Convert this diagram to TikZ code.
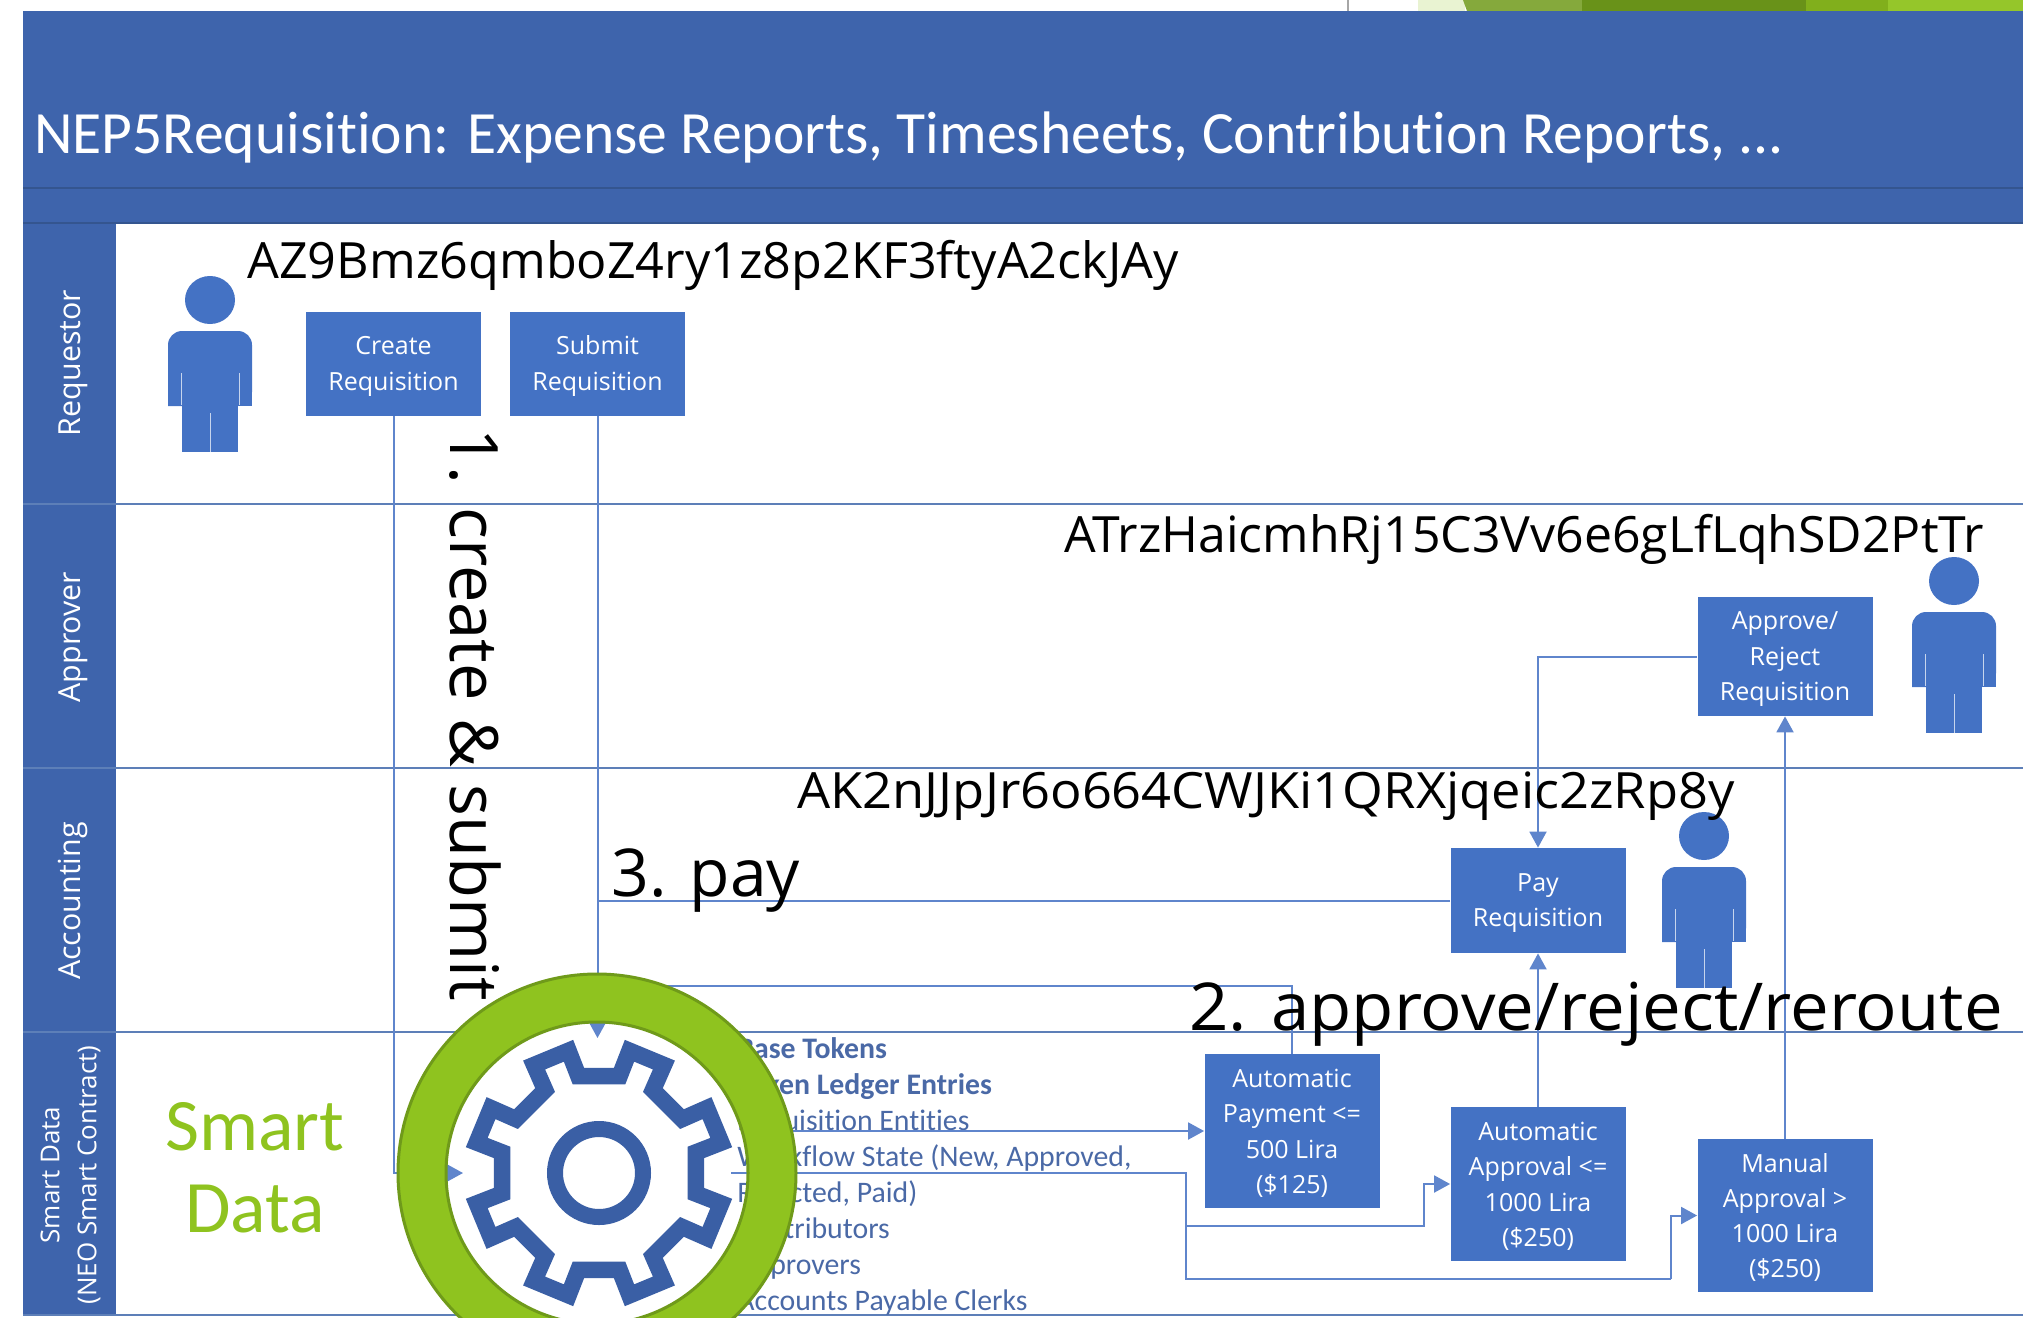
\documentclass[tikz,border=0pt]{standalone}
\usepackage{fontspec}
\setmainfont{Open Sans}
\newfontfamily\calfont[Ligatures=NoCommon]{Carlito}
\usetikzlibrary{arrows.meta}
\usetikzlibrary{positioning}
\definecolor{bandblue}{HTML}{3E64AC}
\definecolor{banddark}{HTML}{34558F}
\definecolor{boxblue}{HTML}{4472C4}
\definecolor{flowblue}{HTML}{5F85CC}
\definecolor{laneline}{HTML}{5D7FB8}
\definecolor{geardark}{HTML}{3A5FA5}
\definecolor{ringgreen}{HTML}{8FC31F}
\definecolor{ringdark}{HTML}{6F9A1A}
\definecolor{listblue}{HTML}{4A69A6}
\newcommand{\boxgap}{\rule{0pt}{11.5pt}}
\tikzset{
  flowbox/.style={rectangle,fill=boxblue,text=white,align=center,inner sep=0pt,minimum width=87.5pt,
    font=\fontsize{12.5}{17.6}\selectfont},
  lanetext/.style={text=white,rotate=90,align=center,inner sep=0pt},
  biglabel/.style={anchor=base west,inner sep=0pt,text=black},
  flowline/.style={draw=flowblue,line width=1pt},
  flowarrow/.style={flowline,-{Triangle[length=8pt,width=8.5pt]}},
}
\begin{document}
\begin{tikzpicture}[line cap=butt,line join=miter,x=0.5pt,y=-0.5pt]
\useasboundingbox (0,0) rectangle (2023,1317);
\clip (0,0) rectangle (2023,1317);
% slide behind the swimlanes
\fill[color=black!35] (1347,0) rectangle (1349,11);
\fill[color=ringgreen!20] (1418,0) rectangle (1465,11);
\fill[color=ringdark!85!white] (1463,0) -- (1582,0) -- (1582,11) -- (1467,11) -- cycle;
\fill[color=ringdark!95!black] (1582,0) rectangle (1806,11);
\fill[color=ringgreen!90!black] (1806,0) rectangle (1888,11);
\fill[color=ringgreen!95!white] (1888,0) rectangle (2023,11);
% header and lanes
\fill[color=bandblue] (23,11) rectangle (2023,224);
\draw[color=banddark,line width=1pt] (23,188) -- (2023,188);
\draw[color=banddark,line width=1pt] (23,223) -- (2023,223);
\fill[color=bandblue] (23,224) rectangle (116,1316);
\foreach \y in {504,768,1032,1315}
\draw[color=laneline,line width=1.3pt] (23,\y) -- (2023,\y);
\node[anchor=base west,inner sep=0pt,text=white,transform shape,xscale=0.993,font=\calfont\fontsize{30}{36}\selectfont] (title) at (34,153) {NEP5Requisition: Expense Reports, Timesheets, Contribution Reports, ...};
\node[lanetext,font=\fontsize{15.2}{18}\selectfont] (requestor) at (73,363) {Requestor};
\node[lanetext,font=\fontsize{15.2}{18}\selectfont] (approver) at (73,637) {Approver};
\node[lanetext,font=\fontsize{15.2}{18}\selectfont] (accounting) at (73,901) {Accounting};
\node[lanetext,font=\fontsize{13}{18.6}\selectfont] (smartlane) at (70.5,1175) {Smart Data\\(NEO Smart Contract)};
% people
\foreach \px/\py in {210/300,1954/581,1704/836}{
\begin{scope}[shift={(\px,\py)}]
\fill[color=boxblue] (0,0) ellipse (25 and 24);
\fill[color=boxblue,rounded corners=7pt] (-42,106) -- (-42,31) -- (42,31) -- (42,106) [sharp corners] -- cycle;
\fill[color=boxblue] (-42,80) rectangle (42,106);
\fill[color=boxblue] (-28,100) rectangle (28,152);
\draw[color=white!70!boxblue,line width=0.5pt] (-29,73) -- (-29,105) (29,73) -- (29,105) (0,113) -- (0,152);
\end{scope}}
% white disc of the gear
\node[circle,fill=white,minimum size=150pt,inner sep=0pt] (hub) at (597.5,1173) {};
\coordinate (gearn) at (597.5,1038);
\coordinate (gearw) at (463,1173);
\coordinate (geare) at (731,1173);
\coordinate (gearp) at (760,1131);
\coordinate (gearr) at (597.5,986);
\coordinate (payjoin) at (597.5,900.5);
\coordinate (turnb) at (1186,1279);
\coordinate (turnc) at (1671,1279);
\coordinate (branch) at (1186,1226);
\coordinate (turna) at (1424,1226);
% list of entities
\node[anchor=north west,inner sep=0pt,align=left,text=listblue,font=\calfont\fontsize{14.9}{18}\selectfont] (entities) at (737,1037) {\textbf{Base Tokens}\\\textbf{Token Ledger Entries}\\Requisition Entities\\Workflow State (New, Approved,\\Rejected, Paid)\\Contributors\\Approvers\\Accounts Payable Clerks};
% boxes
\node[flowbox,minimum height=52pt] (create) at (393.5,364) {\boxgap Create\\Requisition};
\node[flowbox,minimum height=52pt] (submit) at (597.5,364) {\boxgap Submit\\Requisition};
\node[flowbox,minimum height=59.5pt] (approve) at (1785,656.5) {\boxgap Approve/\\Reject\\Requisition};
\node[flowbox,minimum height=52.5pt] (pay) at (1538,900.5) {\boxgap Pay\\Requisition};
\node[flowbox,minimum height=77pt] (autopay) at (1292,1131) {\boxgap Automatic\\Payment <=\\500 Lira\\(\$125)};
\node[flowbox,minimum height=77pt] (autoapp) at (1538,1184) {\boxgap Automatic\\Approval <=\\1000 Lira\\(\$250)};
\node[flowbox,minimum height=76.5pt] (manual) at (1785,1215.5) {\boxgap Manual\\Approval >\\1000 Lira\\(\$250)};
% connectors
\draw[flowarrow] (create.south) |- (gearw);
\draw[flowarrow] (submit.south) -- (gearn);
\draw[flowline] (pay.west) -- (payjoin);
\draw[flowline] (autopay.north) |- (gearr);
\draw[flowarrow] (gearp) -- (autopay.west);
\draw[flowline] (geare) -| (turnb) -- (turnc);
\draw[flowarrow] (turnc) |- (manual.west);
\draw[flowarrow] (branch) -- (turna) |- (autoapp.west);
\draw[flowarrow] (autoapp.north) -- (pay.south);
\draw[flowarrow] (manual.north) -- (approve.south);
\draw[flowarrow] (approve.west) -| (pay.north);
% ring and gear
\draw[fill=ringgreen,even odd rule,draw=ringdark,line width=1.5pt] (597,1173) circle (199) (597,1173) circle (151);
\draw[color=geardark,line width=8.3pt,shift={(599,1173)}] (14:126)
\foreach \k in {0,...,7}{ -- ({45*\k+14}:126) -- ({45*\k+31}:126) -- ({45*\k+33}:99) -- ({45*\k+57}:99) } -- cycle;
\draw[color=geardark,line width=8pt] (599,1173) circle (44);
% labels
\node[anchor=base,inner sep=0pt,text=ringgreen,align=center,font=\calfont\fontsize{37}{41}\selectfont] (smartdata) at (255,1232) {Smart\\Data};
\node[biglabel,transform shape,xscale=1.006,font=\fontsize{25}{30}\selectfont] (addra) at (247,278) {AZ9Bmz6qmboZ4ry1z8p2KF3ftyA2ckJAy};
\node[biglabel,font=\fontsize{25}{30}\selectfont] (addrb) at (1064,552) {ATrzHaicmhRj15C3Vv6e6gLfLqhSD2PtTr};
\node[biglabel,transform shape,xscale=1.048,font=\fontsize{25}{30}\selectfont] (addrc) at (797,808) {AK2nJJpJr6o664CWJKi1QRXjqeic2zRp8y};
\node[biglabel,rotate=-90,font=\fontsize{33.4}{40}\selectfont] (stepone) at (450,428) {1. create \& submit};
\node[biglabel,font=\fontsize{33}{40}\selectfont] (stepthree) at (611,896) {3. pay};
\node[biglabel,transform shape,xscale=1.045,font=\fontsize{33}{40}\selectfont] (steptwo) at (1189,1030) {2. approve/reject/reroute};
\end{tikzpicture}
\end{document}
